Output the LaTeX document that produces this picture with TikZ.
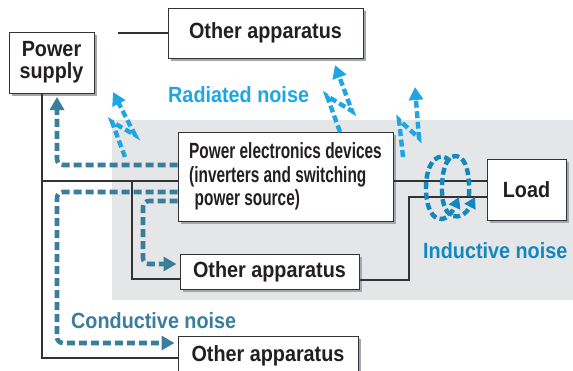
\documentclass[tikz,border=0pt]{standalone}
\usepackage{fontspec}
\newfontfamily\labfont{Liberation Sans}[FakeStretch=0.9]
\newfontfamily\narfont{Liberation Sans}[FakeStretch=0.7]
\usetikzlibrary{arrows.meta,shadows}
\definecolor{radc}{HTML}{1DA6E3}
\definecolor{indc}{HTML}{1387BF}
\definecolor{condc}{HTML}{3A7E9C}
\definecolor{bgc}{HTML}{E5E6E8}
\definecolor{shc}{HTML}{A3A8AE}
\definecolor{wirec}{HTML}{333333}
\definecolor{txtc}{HTML}{231F20}
\tikzset{
  box/.style={draw=wirec, line width=1pt, fill=white, inner sep=0pt, text=txtc,
    font=\labfont\bfseries\fontsize{22}{22}\selectfont,
    drop shadow={shadow xshift=3pt, shadow yshift=-3pt, fill=shc, opacity=1}},
  wire/.style={draw=wirec, line width=1.2pt},
  lbl/.style={inner sep=0pt, anchor=base west, font=\labfont\bfseries\fontsize{22}{22}\selectfont},
  condarrow/.style={draw=condc, line width=4.6pt, dash pattern=on 8pt off 4pt, rounded corners=6pt,
    -{Triangle[length=13pt,width=14pt]}},
  radarrow/.style={draw=radc, line width=4.4pt, dash pattern=on 7pt off 3.5pt,
    -{Triangle[length=13pt,width=14pt]}},
  indarrow/.style={draw=indc, line width=4.4pt, dash pattern=on 7pt off 3.5pt,
    -{Triangle[length=11pt,width=12pt]}}
}
\begin{document}
\begin{tikzpicture}[x=1pt,y=-1pt]
\useasboundingbox (0,0) rectangle (573,370);
\clip (0,0) rectangle (573,370);
\fill[bgc] (112,120) rectangle (573,300);

% boxes
\node[box, minimum width=85pt, minimum height=61pt, align=center] (ps) at (51.5,62.5) {Power\\supply};
\node[box, minimum width=195pt, minimum height=50pt] (oa1) at (265.5,33) {Other apparatus};
\node[box, minimum width=215pt, minimum height=89pt, align=left,
      font=\narfont\bfseries\fontsize{22}{23.5}\selectfont] (pe) at (285.5,176.5)
      {Power electronics devices\\(inverters and switching\\\hspace*{0.25em}power source)};
\node[box, minimum width=79pt, minimum height=61pt] (load) at (526.5,189.5) {Load};
\node[box, minimum width=179pt, minimum height=35pt] (oa2) at (269.5,271.5) {Other apparatus};
\node[box, minimum width=180pt, minimum height=40pt] (oa3) at (268,356) {Other apparatus};

% junction coordinates
\coordinate (a) at (42,181);
\coordinate (b) at (42,358);
\coordinate (c) at (132,181);
\coordinate (d) at (132,279);
\coordinate (e) at (409,280);
\coordinate (f) at (409,197);
\coordinate (g) at (118,33);

% wires
\draw[wire] (a |- ps.south) -- (b) -- (b -| oa3.west);
\draw[wire] (a) -- (a -| pe.west);
\draw[wire] (c) -- (d) -- (d -| oa2.west);
\draw[wire] (oa2.east |- e) -- (e) -- (f) -- (f -| load.west);
\draw[wire] (pe.east |- a) -- (load.west |- a);
\draw[wire] (g) -- (oa1.west |- g);

% conductive noise
\coordinate (k1) at (57,165);
\coordinate (k2) at (57,192);
\coordinate (k3) at (57,343);
\coordinate (k4) at (143,201);
\coordinate (k5) at (143,264);
\coordinate (t1) at (57,97);
\draw[condarrow] (pe.west |- k1) -- (k1) -- (t1);
\draw[condarrow, shorten >=3pt] (pe.west |- k2) -- (k2) -- (k3) -- (k3 -| oa3.west);
\draw[condarrow, shorten >=3pt] (pe.west |- k4) -- (k4) -- (k5) -- (k5 -| oa2.west);

% radiated noise
\coordinate (r1s) at (125,157); \coordinate (r1a) at (112,122); \coordinate (r1b) at (135,135); \coordinate (r1t) at (113,92);
\coordinate (r2s) at (340,132); \coordinate (r2a) at (327,96); \coordinate (r2b) at (352,111); \coordinate (r2t) at (335,65);
\coordinate (r3s) at (403,157); \coordinate (r3a) at (399,120); \coordinate (r3b) at (419,138); \coordinate (r3t) at (415,87);
\draw[radarrow] (r1s) -- (r1a) -- (r1b) -- (r1t);
\draw[radarrow] (r2s) -- (r2a) -- (r2b) -- (r2t);
\draw[radarrow] (r3s) -- (r3a) -- (r3b) -- (r3t);

% inductive noise coil
\coordinate (i1s) at (450,161); \coordinate (i1t) at (459,197);
\coordinate (i2s) at (469,196); \coordinate (i2m) at (455,156); \coordinate (i2t) at (475,197);
\draw[indarrow] (i1s) .. controls (440,150) and (426,160) .. (426,188) .. controls (426,222) and (445,228) .. (i1t);
\draw[indarrow] (i2s) .. controls (470,165) and (463,156) .. (i2m) .. controls (446,157) and (442,170) .. (442,190) .. controls (442,222) and (462,222) .. (i2t);

% labels
\node[lbl, text=radc] (tr) at (168,102) {Radiated noise};
\node[lbl, text=indc] (ti) at (423,258) {Inductive noise};
\node[lbl, text=condc] (tc) at (71,328) {Conductive noise};
\end{tikzpicture}
\end{document}
